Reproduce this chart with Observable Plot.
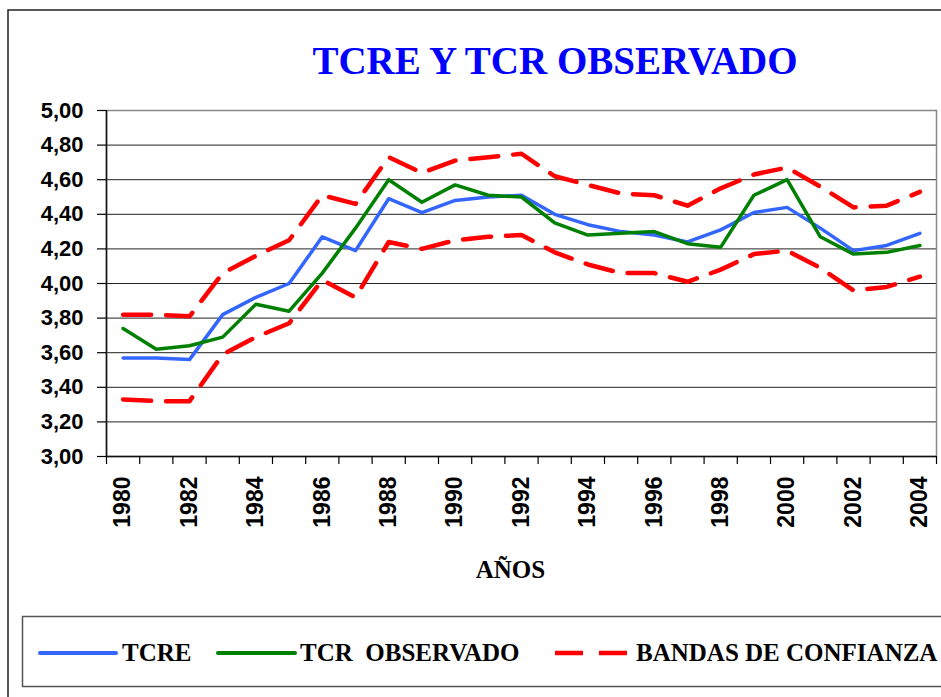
<!DOCTYPE html>
<html><head><meta charset="utf-8">
<script src="https://cdn.jsdelivr.net/npm/d3@7"></script>
<script src="https://cdn.jsdelivr.net/npm/@observablehq/plot@0.6"></script>
<style>
body{margin:0;background:#fff;}
#chart{width:941px;height:697px;overflow:hidden;}
</style>
</head><body><div id="chart"></div>
<script>
const years = [1980,1981,1982,1983,1984,1985,1986,1987,1988,1989,1990,1991,1992,1993,1994,1995,1996,1997,1998,1999,2000,2001,2002,2003,2004];
const tcre = [3.57,3.57,3.56,3.82,3.92,4.00,4.27,4.19,4.49,4.41,4.48,4.50,4.51,4.40,4.34,4.30,4.28,4.24,4.31,4.41,4.44,4.32,4.19,4.22,4.29];
const tcrObservado = [3.74,3.62,3.64,3.69,3.88,3.84,4.06,4.32,4.60,4.47,4.57,4.51,4.50,4.35,4.28,4.29,4.30,4.23,4.21,4.51,4.60,4.27,4.17,4.18,4.22];
const bandaSuperior = [3.82,3.82,3.81,4.06,4.16,4.25,4.51,4.46,4.73,4.64,4.71,4.73,4.75,4.62,4.57,4.52,4.51,4.45,4.55,4.63,4.67,4.56,4.44,4.45,4.53];
const bandaInferior = [3.33,3.32,3.32,3.59,3.69,3.77,4.02,3.92,4.24,4.20,4.25,4.27,4.28,4.18,4.11,4.06,4.06,4.01,4.08,4.17,4.19,4.09,3.96,3.98,4.04];
const yTicks = [3.0,3.2,3.4,3.6,3.8,4.0,4.2,4.4,4.6,4.8,5.0];
const xTickYears = [1980,1982,1984,1986,1988,1990,1992,1994,1996,1998,2000,2002,2004];
const titulo = "TCRE Y TCR OBSERVADO";
const ejeX = "AÑOS";
const leyenda = ["TCRE", "TCR  OBSERVADO", "BANDAS DE CONFIANZA"];

const BLUE = "#3366FF", GREEN = "#008000", RED = "#FF0000";
const SERIF = "'Liberation Serif','Times New Roman',serif";
const SANS = "'Liberation Sans',Arial,sans-serif";

const rows = (vals) => years.map((yr, i) => ({year: yr, value: vals[i]}));
const boundaries = years.map(y => y - 0.5).concat([years[years.length - 1] + 0.5]);

function addText(g, x, y, txt, size, anchor, fill) {
  return g.append("text").attr("x", x).attr("y", y)
    .style("font-family", SERIF).style("font-weight", "bold").style("font-size", size + "px")
    .style("text-anchor", anchor).style("fill", fill).style("white-space", "pre").text(txt);
}

function decor() {
  const g = d3.create("svg:g");
  g.append("path").attr("d", "M8,700V10H945").attr("fill", "none").attr("stroke", "#222").attr("stroke-width", 1.5);
  addText(g, 555, 74, titulo, 39, "middle", "#0000FF");
  addText(g, 510.5, 578, ejeX, 25, "middle", "#000");
  g.append("rect").attr("x", 22.5).attr("y", 616.5).attr("width", 940).attr("height", 70)
    .attr("fill", "#fff").attr("stroke", "#555").attr("stroke-width", 1.5);
  const ly = 653;
  g.append("line").attr("x1", 40).attr("x2", 116).attr("y1", ly).attr("y2", ly).attr("stroke", BLUE).attr("stroke-width", 4).attr("stroke-linecap", "round");
  g.append("line").attr("x1", 218).attr("x2", 295).attr("y1", ly).attr("y2", ly).attr("stroke", GREEN).attr("stroke-width", 4).attr("stroke-linecap", "round");
  g.append("line").attr("x1", 555).attr("x2", 628).attr("y1", ly).attr("y2", ly).attr("stroke", RED).attr("stroke-width", 4.5).attr("stroke-dasharray", "28,16");
  const lx = [122, 300, 636];
  leyenda.forEach((t, i) => addText(g, lx[i], 661, t, 25, "start", "#000"));
  return g.node();
}

const plot = Plot.plot({
  width: 941,
  height: 697,
  marginLeft: 106,
  marginRight: 5,
  marginTop: 110,
  marginBottom: 241,
  x: {type: "linear", domain: [1979.5, 2004.5]},
  y: {domain: [3, 5]},
  style: {background: "#fff", fontFamily: SANS, fontWeight: "bold", fontSize: "22px", color: "#000", overflow: "visible"},
  marks: [
    decor,
    Plot.ruleY(yTicks.slice(1, -1), {stroke: "#222", strokeWidth: 1, strokeOpacity: 1}),
    Plot.frame({stroke: "#888", strokeWidth: 1.5}),
    Plot.ruleX([1979.5], {stroke: "#111", strokeWidth: 1.5}),
    Plot.ruleY([3], {stroke: "#111", strokeWidth: 1.5}),
    Plot.axisY({ticks: yTicks, tickSize: 9, tickPadding: 14, label: null, strokeWidth: 1.2,
      tickFormat: d => d.toFixed(2).replace(".", ","), fontSize: 22}),
    Plot.axisX({ticks: boundaries, tickSize: 8, tickFormat: () => "", label: null, strokeWidth: 1.2}),
    Plot.axisX({ticks: xTickYears, tickSize: 0, tickPadding: 20, tickRotate: -90, label: null,
      tickFormat: d => String(d), fontSize: 23}),
    Plot.line(rows(tcre), {x: "year", y: "value", stroke: BLUE, strokeWidth: 3.5, strokeLinejoin: "round"}),
    Plot.line(rows(tcrObservado), {x: "year", y: "value", stroke: GREEN, strokeWidth: 3.5, strokeLinejoin: "round"}),
    Plot.line(rows(bandaSuperior), {x: "year", y: "value", stroke: RED, strokeWidth: 4.5, strokeDasharray: "28,15"}),
    Plot.line(rows(bandaInferior), {x: "year", y: "value", stroke: RED, strokeWidth: 4.5, strokeDasharray: "28,15"})
  ]
});
document.getElementById("chart").appendChild(plot);
</script>
</body></html>
